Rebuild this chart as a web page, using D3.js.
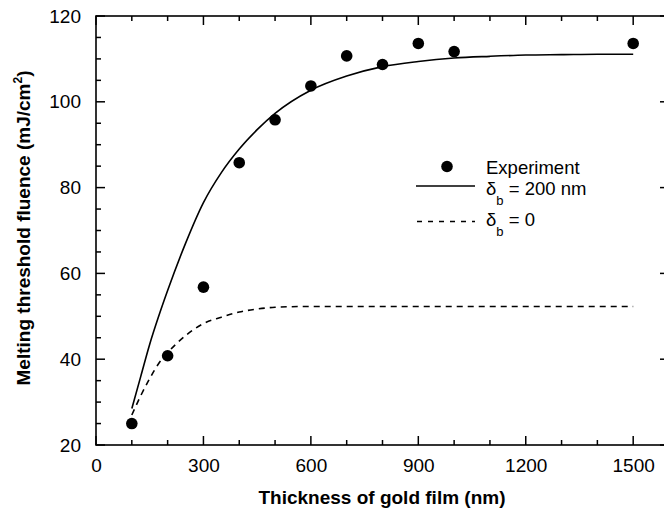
<!DOCTYPE html>
<html>
<head>
<meta charset="utf-8">
<script src="https://cdn.jsdelivr.net/npm/d3@7"></script>
<style>
  body { margin: 0; background: #fff; }
  text { font-family: "Liberation Sans", Arial, Helvetica, sans-serif; fill: #000; }
  .tick text { font-size: 19px; }
  .axisTitle { font-size: 19px; font-weight: bold; }
  .legendText { font-size: 18.5px; }
</style>
</head>
<body>
<div id="chart"></div>
<script>
// measured points
var expThickness = [100, 200, 300, 400, 500, 600, 700, 800, 900, 1000, 1500];
var expFluence   = [25, 40.8, 56.8, 85.8, 95.8, 103.7, 110.7, 108.7, 113.6, 111.7, 113.6];

// model curve, delta_b = 200 nm
var fitThickness = [100, 125, 150, 175, 200, 250, 300, 350, 400, 450, 500, 600, 700, 800, 900, 1000, 1100, 1200, 1300, 1400, 1500];
var fitFluence   = [28.5, 36, 43.5, 50, 56, 67, 76.5, 83.5, 89, 93.5, 97.3, 102.7, 106, 108.2, 109.4, 110.2, 110.6, 110.9, 111, 111.1, 111.1];

// model curve, delta_b = 0
var zeroThickness = [100, 125, 150, 175, 200, 250, 300, 350, 400, 450, 500, 600, 700, 800, 900, 1000, 1100, 1200, 1300, 1400, 1500];
var zeroFluence   = [27, 31.5, 35.5, 39, 41.5, 45.5, 48.3, 49.8, 51, 51.7, 52.1, 52.3, 52.3, 52.3, 52.3, 52.3, 52.3, 52.3, 52.3, 52.3, 52.3];

var xTicks = [0, 300, 600, 900, 1200, 1500];
var xMinor = d3.range(0, 1601, 100);
var yTicks = [20, 40, 60, 80, 100, 120];
var yMinor = d3.range(20, 121, 5);

var svgWidth = 664, svgHeight = 516;
var margin = { top: 16, left: 96 };
var width = 573, height = 429;

var svg = d3.select("#chart").append("svg")
  .attr("width", svgWidth)
  .attr("height", svgHeight);

var g = svg.append("g")
  .attr("transform", `translate(${margin.left}, ${margin.top})`);

var xScale = d3.scaleLinear().domain([0, 1600]).range([0, width]);
var yScale = d3.scaleLinear().domain([20, 120]).range([height, 0]);

// frame
g.append("rect")
  .attr("width", width).attr("height", height)
  .attr("fill", "none").attr("stroke", "#000").attr("stroke-width", 1.6);

// inward tick marks on all four sides
var xMarks = xMinor.map(v => ({ v: v, len: xTicks.includes(v) ? 9 : 5 }));
var yMarks = yMinor.map(v => ({ v: v, len: yTicks.includes(v) ? 9 : 5 }));
var tickG = g.append("g").attr("stroke", "#000").attr("stroke-width", 1.5);

tickG.selectAll(".xb").data(xMarks).enter().append("line")
  .attr("x1", d => xScale(d.v)).attr("x2", d => xScale(d.v))
  .attr("y1", height).attr("y2", d => height - d.len);
tickG.selectAll(".xt").data(xMarks).enter().append("line")
  .attr("x1", d => xScale(d.v)).attr("x2", d => xScale(d.v))
  .attr("y1", 0).attr("y2", d => d.len);
tickG.selectAll(".yl").data(yMarks).enter().append("line")
  .attr("y1", d => yScale(d.v)).attr("y2", d => yScale(d.v))
  .attr("x1", 0).attr("x2", d => d.len);
tickG.selectAll(".yr").data(yMarks).enter().append("line")
  .attr("y1", d => yScale(d.v)).attr("y2", d => yScale(d.v))
  .attr("x1", width).attr("x2", d => width - d.len);

// tick labels
g.append("g").attr("transform", `translate(0, ${height})`)
  .call(d3.axisBottom(xScale).tickValues(xTicks).tickFormat(d3.format("d")).tickSize(0).tickPadding(14))
  .call(a => a.select(".domain").remove());
g.append("g")
  .call(d3.axisLeft(yScale).tickValues(yTicks).tickFormat(d3.format("d")).tickSize(0).tickPadding(15))
  .call(a => a.select(".domain").remove());
g.selectAll(".tick text").attr("font-family", null).attr("font-size", null);

// curves
var fitData = fitThickness.map((d, i) => ({ x: d, y: fitFluence[i] }));
var zeroData = zeroThickness.map((d, i) => ({ x: d, y: zeroFluence[i] }));
var line = d3.line().x(d => xScale(d.x)).y(d => yScale(d.y)).curve(d3.curveMonotoneX);

g.append("path").datum(fitData).attr("d", line)
  .attr("fill", "none").attr("stroke", "#000").attr("stroke-width", 1.6);
g.append("path").datum(zeroData).attr("d", line)
  .attr("fill", "none").attr("stroke", "#000").attr("stroke-width", 1.6)
  .attr("stroke-dasharray", "6,5");

g.selectAll(".dot")
  .data(expThickness.map((d, i) => ({ x: d, y: expFluence[i] })))
  .enter().append("circle")
  .attr("cx", d => xScale(d.x))
  .attr("cy", d => yScale(d.y))
  .attr("r", 5.8)
  .attr("fill", "#000");

// legend
var leg = svg.append("g");
leg.append("circle").attr("cx", 447).attr("cy", 166.5).attr("r", 5.8).attr("fill", "#000");
leg.append("text").attr("class", "legendText").attr("x", 486).attr("y", 174).text("Experiment");
leg.append("line").attr("x1", 416).attr("x2", 475).attr("y1", 186).attr("y2", 186)
  .attr("stroke", "#000").attr("stroke-width", 1.4);
var t1 = leg.append("text").attr("class", "legendText").attr("x", 486).attr("y", 195);
t1.append("tspan").text("δ");
t1.append("tspan").attr("dy", 10).attr("font-size", "13px").text("b");
t1.append("tspan").attr("dy", -10).text(" = 200 nm");
leg.append("line").attr("x1", 417).attr("x2", 475).attr("y1", 221.5).attr("y2", 221.5)
  .attr("stroke", "#000").attr("stroke-width", 1.4).attr("stroke-dasharray", "5,6");
var t2 = leg.append("text").attr("class", "legendText").attr("x", 486).attr("y", 226);
t2.append("tspan").text("δ");
t2.append("tspan").attr("dy", 10).attr("font-size", "13px").text("b");
t2.append("tspan").attr("dy", -10).text(" = 0");

// axis titles
svg.append("text").attr("class", "axisTitle")
  .attr("x", 382).attr("y", 504).attr("text-anchor", "middle")
  .text("Thickness of gold film (nm)");

var yt = svg.append("text").attr("class", "axisTitle")
  .attr("transform", "translate(30, 228) rotate(-90)")
  .attr("text-anchor", "middle");
yt.append("tspan").text("Melting threshold fluence (mJ/cm");
yt.append("tspan").attr("dy", -8).attr("font-size", "12px").text("2");
yt.append("tspan").attr("dy", 8).text(")");
</script>
</body>
</html>
